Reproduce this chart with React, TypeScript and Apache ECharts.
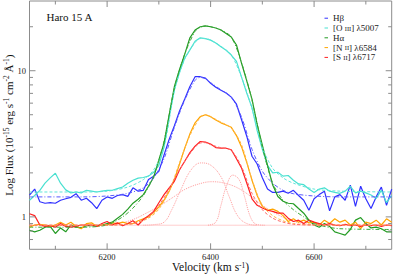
import React, { useEffect, useRef } from "react";
import * as echarts from "echarts";

const FONT = "Liberation Serif";

const velocity = [
  6050, 6060, 6070, 6080, 6090, 6100, 6110, 6120, 6130, 6140,
  6150, 6160, 6170, 6180, 6190, 6200, 6210, 6220, 6230, 6240,
  6250, 6260, 6270, 6280, 6290, 6300, 6310, 6320, 6330, 6340,
  6350, 6360, 6370, 6380, 6390, 6400, 6410, 6420, 6430, 6440,
  6450, 6460, 6470, 6480, 6490, 6500, 6510, 6520, 6530, 6540,
  6550, 6560, 6570, 6580, 6590, 6600, 6610, 6620, 6630, 6640,
  6650, 6660, 6670, 6680, 6690, 6700, 6710, 6720, 6730, 6740,
  6750,
];

const hBeta = [
  1.41, 1.55, 1.27, 1.24, 1.25, 1.24, 1.30, 1.33, 1.36, 1.44,
  1.30, 1.34, 1.25, 1.14, 1.30, 1.37, 1.34, 1.40, 1.42, 1.38,
  1.58, 1.50, 1.52, 1.80, 1.90, 2.05, 2.65, 3.4, 4.2, 5.3,
  6.4, 7.8, 9.1, 9.1, 8.9, 8.2, 7.7, 7.35, 7.05, 6.6,
  5.9, 4.6, 3.55, 2.6, 2.3, 1.85, 1.55, 1.47, 1.47, 1.50,
  1.45, 1.52, 1.40, 1.30, 1.11, 1.33, 1.42, 1.50, 1.10, 1.37,
  1.42, 1.30, 1.65, 1.18, 1.62, 1.33, 1.14, 1.37, 1.60, 1.20,
  1.55,
];

const oIII = [
  1.30, 1.40, 1.52, 1.70, 1.85, 1.99, 1.70, 1.53, 1.46, 1.48,
  1.46, 1.52, 1.50, 1.48, 1.50, 1.52, 1.52, 1.56, 1.60, 1.70,
  1.78, 1.84, 1.86, 1.90, 2.02, 2.25, 3.0, 4.8, 7.4, 9.8,
  12.2, 13.9, 15.9, 16.8, 16.6, 16.2, 15.5, 14.6, 13.8, 12.8,
  11.6, 9.0, 7.0, 5.6, 3.9, 2.9, 2.25, 2.0, 2.02, 1.9,
  1.92, 1.78, 1.68, 1.66, 1.55, 1.47, 1.55, 1.58, 1.50, 1.47,
  1.45, 1.50, 1.62, 1.46, 1.50, 1.46, 1.41, 1.34, 1.52, 1.25,
  1.40,
];

const hAlpha = [
  0.81, 0.79, 0.81, 0.85, 0.86, 0.77, 0.84, 0.79, 0.88, 0.85,
  0.84, 0.87, 0.87, 0.87, 0.88, 0.90, 0.92, 0.98, 1.04, 1.13,
  1.24, 1.32, 1.42, 1.62, 1.87, 2.45, 3.2, 5.0, 7.8, 10.2,
  13.0, 16.8, 19.0, 20.0, 20.3, 20.0, 19.6, 19.0, 18.0, 17.0,
  15.0, 11.2, 8.5, 6.4, 4.3, 3.1, 2.25, 1.65, 1.38, 1.28,
  1.24, 1.23, 1.14, 1.06, 0.95, 0.88, 0.85, 0.90, 0.86, 0.79,
  0.77, 0.75, 0.82, 0.95, 0.99, 0.90, 0.84, 0.85, 0.83, 0.79,
  0.79,
];

const nII = [
  0.85, 0.88, 0.89, 0.88, 0.86, 0.88, 0.92, 0.88, 0.92, 0.86,
  0.83, 0.90, 0.91, 0.86, 0.88, 0.88, 0.91, 0.90, 0.92, 0.90,
  0.90, 0.94, 0.97, 1.0, 1.07, 1.17, 1.30, 1.50, 1.80, 2.30,
  2.95, 3.7, 4.4, 4.85, 5.0, 4.85, 4.6, 4.4, 4.25, 4.1,
  3.6, 3.0, 2.35, 1.78, 1.40, 1.18, 1.11, 1.13, 1.09, 1.02,
  0.93, 0.97, 0.92, 0.95, 0.91, 0.92, 0.88, 0.95, 0.90, 0.97,
  0.92, 0.95, 0.88, 0.92, 0.83, 0.92, 0.90, 0.95, 0.88, 0.97,
  0.92,
];

const sII = [
  1.05, 1.02, 0.88, 0.86, 0.87, 0.85, 0.90, 0.86, 0.85, 0.86,
  0.88, 0.88, 0.88, 0.86, 0.90, 0.93, 0.88, 0.91, 0.87, 0.90,
  0.94, 0.88, 0.96, 1.02, 1.09, 1.25, 1.42, 1.58, 1.75, 2.10,
  2.40, 2.75, 3.05, 3.28, 3.25, 3.15, 2.98, 2.95, 2.95, 2.88,
  2.5, 2.15, 1.7, 1.33, 1.20, 1.15, 1.11, 1.09, 1.06, 1.06,
  0.98, 0.93, 0.95, 0.90, 0.95, 0.92, 0.90, 0.88, 0.90, 0.88,
  0.87, 0.89, 0.87, 0.88, 0.86, 0.88, 0.87, 0.88, 0.86, 0.88,
  0.87,
];

const fitHBeta = [
  [6050, 1.37], [6150, 1.37], [6200, 1.39], [6240, 1.45], [6270, 1.58], [6290, 1.85],
  [6310, 2.5], [6330, 4.1], [6350, 6.3], [6370, 8.6], [6380, 9.0], [6390, 8.8],
  [6400, 8.3], [6420, 7.4], [6440, 6.6], [6460, 4.8], [6480, 2.9], [6500, 2.05],
  [6520, 1.7], [6540, 1.52], [6560, 1.44], [6600, 1.39], [6650, 1.37], [6750, 1.37],
];
const fitOIII = [
  [6050, 1.48], [6150, 1.48], [6200, 1.5], [6240, 1.6], [6270, 1.8], [6290, 2.1],
  [6310, 3.0], [6330, 7.3], [6350, 12.0], [6370, 15.6], [6380, 16.6], [6390, 16.6],
  [6400, 16.2], [6420, 14.7], [6440, 12.8], [6460, 9.0], [6480, 5.5], [6500, 3.0],
  [6520, 2.15], [6540, 1.85], [6560, 1.7], [6600, 1.55], [6650, 1.5], [6750, 1.48],
];
const fitHAlpha = [
  [6050, 0.85], [6150, 0.85], [6200, 0.88], [6230, 1.0], [6250, 1.15], [6270, 1.4],
  [6290, 1.9], [6310, 3.3], [6330, 7.6], [6350, 13.0], [6370, 18.6], [6380, 19.8],
  [6390, 20.2], [6400, 20.0], [6420, 19.0], [6440, 17.0], [6460, 11.3], [6480, 6.3],
  [6500, 3.0], [6520, 1.7], [6540, 1.3], [6560, 1.12], [6580, 1.0], [6600, 0.9],
  [6650, 0.83], [6750, 0.82],
];
const fitNII = [
  [6050, 0.877], [6200, 0.88], [6250, 0.9], [6280, 0.98], [6300, 1.13], [6320, 1.5],
  [6340, 2.35], [6360, 3.6], [6380, 4.8], [6390, 5.0], [6400, 4.85], [6420, 4.45],
  [6440, 4.05], [6460, 3.1], [6480, 1.8], [6500, 1.2], [6520, 1.02], [6540, 0.94],
  [6560, 0.9], [6600, 0.88], [6750, 0.877],
];
const fitSII = [
  [6050, 0.877], [6200, 0.88], [6250, 0.9], [6280, 1.0], [6300, 1.2], [6320, 1.55],
  [6340, 2.1], [6360, 2.7], [6380, 3.2], [6390, 3.22], [6400, 3.12], [6420, 2.97],
  [6440, 2.85], [6460, 2.2], [6480, 1.45], [6500, 1.12], [6520, 0.98], [6540, 0.92],
  [6560, 0.89], [6600, 0.88], [6750, 0.877],
];

const continuum = [[6050, 0.877], [6750, 0.877]];
const componentA = [
  [6270, 0.877], [6290, 0.885], [6310, 0.92], [6325, 1.12], [6342, 1.52], [6362, 2.09],
  [6381, 2.34], [6400, 2.26], [6420, 1.88], [6435, 1.4], [6452, 1.02], [6470, 0.9],
  [6490, 0.877],
];
const componentB = [
  [6180, 0.877], [6220, 0.9], [6250, 0.96], [6280, 1.08], [6300, 1.18], [6330, 1.38],
  [6350, 1.54], [6380, 1.69], [6403, 1.74], [6430, 1.69], [6455, 1.56], [6480, 1.36],
  [6500, 1.2], [6525, 1.06], [6550, 0.96], [6580, 0.9], [6620, 0.877],
];
const componentC = [
  [6395, 0.877], [6410, 0.92], [6420, 1.2], [6430, 1.6], [6443, 1.93], [6455, 1.8],
  [6465, 1.4], [6478, 0.98], [6490, 0.885], [6505, 0.877],
];

const lineNames = ["Hβ", "[O III] λ5007", "Hα", "[N II] λ6584", "[S II] λ6717"];
const lineColors = ["#3030ff", "#48e0d0", "#239b23", "#ffa500", "#ff2020"];
const fitColors = ["#5a5aff", "#60e6d8", "#3aa83a", "#ffb64a", "#ff6a6a"];

const xMajorTicks = [6200, 6400, 6600];
const xMinorTicks = [6100, 6300, 6500, 6700];
const yMajorTicks = [1, 10];
const yMinorTicks = [0.7, 0.8, 0.9, 2, 3, 4, 5, 6, 7, 8, 9, 20];

export default function App() {
  const ref = useRef<HTMLDivElement>(null);

  useEffect(() => {
    const chart = echarts.init(ref.current!, null, { renderer: "svg" });
    const observed = [hBeta, oIII, hAlpha, nII, sII];
    const fits = [fitHBeta, fitOIII, fitHAlpha, fitNII, fitSII];

    const tickData = [
      ...xMajorTicks.map((v) => [v, 1, 0, 6]),
      ...xMinorTicks.map((v) => [v, 1, 0, 3.5]),
      ...yMajorTicks.map((v) => [6400, v, 1, 6]),
      ...yMinorTicks.map((v) => [6400, v, 1, 3.5]),
    ];

    const compStyle = { color: "#ff9c9c", width: 1, type: "dotted" as const };
    const series: any[] = [];
    [continuum, componentA, componentB, componentC].forEach((d, i) => {
      series.push({
        name: "comp" + i,
        type: "line",
        data: d,
        smooth: i === 0 ? false : 0.4,
        showSymbol: false,
        symbol: "none",
        lineStyle: compStyle,
        color: "#ff9c9c",
        silent: true,
        z: 1,
      });
    });
    observed.forEach((arr, i) => {
      series.push({
        name: lineNames[i],
        type: "line",
        data: velocity.map((v, j) => [v, arr[j]]),
        showSymbol: false,
        symbol: "none",
        color: lineColors[i],
        itemStyle: { color: lineColors[i] },
        lineStyle: { color: lineColors[i], width: 1.2 },
        silent: true,
        z: 3,
      });
    });
    fits.forEach((d, i) => {
      series.push({
        name: "fit" + i,
        type: "line",
        data: d,
        smooth: 0.3,
        showSymbol: false,
        symbol: "none",
        color: fitColors[i],
        lineStyle: {
          color: fitColors[i],
          width: 1,
          type: i === 0 || i === 2 ? [4, 2, 1, 2] : [3, 2],
        },
        silent: true,
        z: 4,
      });
    });
    series.push({
      type: "custom",
      silent: true,
      data: tickData,
      z: 5,
      renderItem: (params: any, api: any) => {
        const cs = params.coordSys;
        const kind = api.value(2);
        const len = api.value(3);
        const p = api.coord([api.value(0), api.value(1)]);
        const st = { stroke: "#8c8c8c", lineWidth: 1 };
        if (kind === 0) {
          const b = cs.y + cs.height;
          const t = cs.y;
          return {
            type: "group",
            children: [
              { type: "line", shape: { x1: p[0], y1: b, x2: p[0], y2: b - len }, style: st },
              { type: "line", shape: { x1: p[0], y1: t, x2: p[0], y2: t + len }, style: st },
            ],
          };
        }
        const l = cs.x;
        const r = cs.x + cs.width;
        return {
          type: "group",
          children: [
            { type: "line", shape: { x1: l, y1: p[1], x2: l + len, y2: p[1] }, style: st },
            { type: "line", shape: { x1: r, y1: p[1], x2: r - len, y2: p[1] }, style: st },
          ],
        };
      },
    });

    const isPow10 = (v: number) => {
      const l = Math.log10(v);
      return Math.abs(l - Math.round(l)) < 1e-6;
    };

    chart.setOption({
      animation: false,
      backgroundColor: "#ffffff",
      textStyle: { fontFamily: FONT },
      grid: {
        left: 29.5,
        right: 1.3,
        top: 1,
        bottom: 25.7,
        containLabel: false,
        outerBoundsMode: "none",
        show: true,
        borderColor: "#8c8c8c",
        borderWidth: 1,
        backgroundColor: "transparent",
      },
      graphic: [
        {
          type: "text",
          left: 46.5,
          top: 11,
          style: { text: "Haro 15 A", fontFamily: FONT, fontSize: 11, fill: "#111" },
        },
      ],
      legend: {
        data: lineNames.map((n, i) => ({ name: n, itemStyle: { color: lineColors[i] } })),
        orient: "vertical",
        left: 319.5,
        top: 8.3,
        itemWidth: 3.5,
        itemHeight: 1,
        itemGap: 0,
        icon: "rect",
        selectedMode: false,
        formatter: (n: string) => n.replace(/\b(III|II)\b/, "{sc|$1}"),
        textStyle: {
          fontFamily: FONT,
          fontSize: 9,
          color: "#222",
          lineHeight: 9.8,
          rich: { sc: { fontFamily: FONT, fontSize: 6.5, color: "#222", lineHeight: 9.8 } },
        },
      },
      xAxis: {
        type: "value",
        min: 6050,
        max: 6750,
        splitNumber: 3,
        axisLine: { show: false },
        axisTick: { show: false },
        splitLine: { show: false },
        axisLabel: {
          fontFamily: FONT,
          fontSize: 8.5,
          color: "#222",
          margin: 3,
          showMinLabel: false,
          showMaxLabel: false,
          formatter: (v: number) => (v % 200 === 0 ? String(v) : ""),
        },
        name: "{n|Velocity (km s}{s|-1}{n|)}",
        nameLocation: "middle",
        nameGap: 12,
        nameMoveOverlap: false,
        nameTextStyle: {
          fontFamily: FONT,
          rich: {
            n: { fontFamily: FONT, fontSize: 11.5, color: "#111", lineHeight: 12 },
            s: { fontFamily: FONT, fontSize: 7.5, color: "#111", lineHeight: 12, verticalAlign: "top" },
          },
        },
      },
      yAxis: {
        type: "log",
        logBase: 10,
        min: 0.6,
        max: 30,
        axisLine: { show: false },
        axisTick: { show: false },
        splitLine: { show: false },
        minorTick: { show: false },
        axisLabel: {
          fontFamily: FONT,
          fontSize: 8.5,
          color: "#222",
          margin: 3.5,
          showMinLabel: false,
          showMaxLabel: false,
          formatter: (v: number) => (isPow10(v) ? String(Math.round(v)) : ""),
        },
        name: "{n|Log Flux (10}{s|-15}{n| erg s}{s|-1}{n| cm}{s|-2}{n| Å}{s|-1}{n|)}",
        nameLocation: "middle",
        nameRotate: 90,
        nameGap: 15,
        nameMoveOverlap: false,
        nameTextStyle: {
          fontFamily: FONT,
          rich: {
            n: { fontFamily: FONT, fontSize: 11, color: "#111", lineHeight: 12 },
            s: { fontFamily: FONT, fontSize: 7.5, color: "#111", lineHeight: 12, verticalAlign: "top" },
          },
        },
      },
      series,
    });
    return () => chart.dispose();
  }, []);

  return (
    <div
      ref={ref}
      style={{ position: "absolute", left: 0, top: 0, width: 393, height: 275 }}
    />
  );
}
